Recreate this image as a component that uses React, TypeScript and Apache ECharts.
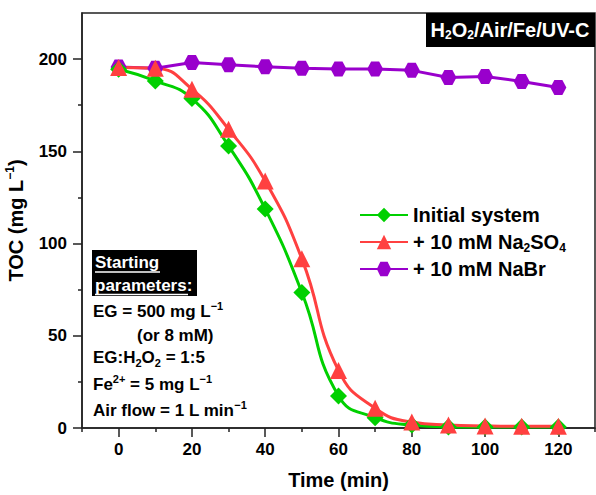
import React, { useEffect, useRef } from "react";
import * as echarts from "echarts";

const times = [0, 10, 20, 30, 40, 50, 60, 70, 80, 90, 100, 110, 120];
const initialSystem = [194.5, 188.2, 178.6, 152.9, 118.8, 73.5, 17.4, 5.6, 1.6, 0.6, 0.5, 0.5, 0.5];
const na2so4 = [195.5, 195.1, 183.7, 162, 133.9, 91.7, 31.2, 10.7, 3.2, 1.6, 1.1, 0.9, 0.9];
const nabr = [195.7, 195.1, 198.2, 196.9, 195.8, 195.1, 194.6, 194.7, 193.9, 190, 190.6, 187.9, 184.6];

const xMajorTicks = [0, 20, 40, 60, 80, 100, 120];
const xMinorTicks = [-10, 10, 30, 50, 70, 90, 110, 130];
const yMajorTicks = [0, 50, 100, 150, 200];
const yMinorTicks = [25, 75, 125, 175];

const seriesNames = ["Initial system", "+ 10 mM Na2SO4", "+ 10 mM NaBr"];
const legendLabels: Record<string, string> = {
  "Initial system": "Initial system",
  "+ 10 mM Na2SO4": "+ 10 mM Na{sub|2}SO{sub|4}",
  "+ 10 mM NaBr": "+ 10 mM NaBr",
};

const FONT = "'Liberation Sans', Arial, Helvetica, sans-serif";

function richFor(size: number, color: string) {
  const small = Math.round(size * 0.62);
  return {
    sup: { fontSize: small, fontWeight: "bold", fontFamily: FONT, color, fill: color, lineHeight: 12, verticalAlign: "top" },
    sub: { fontSize: small, fontWeight: "bold", fontFamily: FONT, color, fill: color, lineHeight: 12, verticalAlign: "bottom" },
  };
}

const hexagon = "path://M-10,0 L-5,-8.66 L5,-8.66 L10,0 L5,8.66 L-5,8.66 Z";

export default function App() {
  const ref = useRef<HTMLDivElement>(null);
  useEffect(() => {
    if (!ref.current) return;
    const chart = echarts.init(ref.current, null, { renderer: "svg" });
    const pair = (arr: number[]) => times.map((t, i) => [t, arr[i]]);
    const txt = (text: string, x: number, y: number, color = "#000", size = 17, align = "left") => ({
      type: "text",
      x,
      y,
      z: 100,
      style: {
        text,
        fill: color,
        fontSize: size,
        fontWeight: "bold",
        fontFamily: FONT,
        lineHeight: 22,
        align,
        verticalAlign: "middle",
        rich: richFor(size, color),
      },
    });
    chart.setOption({
      animation: false,
      backgroundColor: "#fff",
      grid: {
        left: 82,
        right: 1,
        top: 13,
        bottom: 67,
        containLabel: false,
        outerBoundsMode: "none",
        show: true,
        borderColor: "#222",
        borderWidth: 1.5,
        backgroundColor: "transparent",
      },
      xAxis: [
        {
          type: "value",
          min: -10,
          max: 130,
          name: "Time (min)",
          nameLocation: "middle",
          nameGap: 42,
          nameTextStyle: { fontSize: 20, fontWeight: "bold", fontFamily: FONT, color: "#000" },
          axisLine: { show: true, onZero: false, lineStyle: { color: "#222", width: 1.5 } },
          axisTick: { show: true, customValues: xMajorTicks, length: 9, lineStyle: { color: "#222", width: 1.5 } },
          axisLabel: { customValues: xMajorTicks, fontSize: 17, fontWeight: "bold", fontFamily: FONT, color: "#000", margin: 13 },
          splitLine: { show: false },
        },
        {
          type: "value",
          min: -10,
          max: 130,
          position: "bottom",
          axisLine: { show: false, onZero: false },
          axisTick: { show: true, customValues: xMinorTicks, length: 4, lineStyle: { color: "#222", width: 1.5 } },
          axisLabel: { show: false },
          splitLine: { show: false },
        },
      ],
      yAxis: [
        {
          type: "value",
          min: 0,
          max: 225,
          name: "TOC (mg L{sup|−1})",
          nameLocation: "middle",
          nameGap: 44,
          nameTextStyle: { fontSize: 20, fontWeight: "bold", fontFamily: FONT, color: "#000", lineHeight: 24, rich: richFor(20, "#000") },
          axisLine: { show: true, onZero: false, lineStyle: { color: "#222", width: 1.5 } },
          axisTick: { show: true, customValues: yMajorTicks, length: 9, lineStyle: { color: "#222", width: 1.5 } },
          axisLabel: { customValues: yMajorTicks, fontSize: 17, fontWeight: "bold", fontFamily: FONT, color: "#000", margin: 15 },
          splitLine: { show: false },
        },
        {
          type: "value",
          min: 0,
          max: 225,
          position: "left",
          axisLine: { show: false, onZero: false },
          axisTick: { show: true, customValues: yMinorTicks, length: 4, lineStyle: { color: "#222", width: 1.5 } },
          axisLabel: { show: false },
          splitLine: { show: false },
        },
      ],
      legend: {
        data: seriesNames,
        orient: "vertical",
        left: 354,
        top: 198,
        itemWidth: 48,
        itemHeight: 18,
        itemGap: 3,
        formatter: (name: string) => legendLabels[name] || name,
        textStyle: { fontSize: 20, fontWeight: "bold", fontFamily: FONT, color: "#000", lineHeight: 24, rich: richFor(20, "#000") },
      },
      series: [
        {
          name: seriesNames[2],
          type: "line",
          data: pair(nabr),
          symbol: hexagon,
          symbolSize: [16, 15],
          itemStyle: { color: "#9900CC" },
          lineStyle: { color: "#9900CC", width: 3 },
        },
        {
          name: seriesNames[0],
          type: "line",
          data: pair(initialSystem),
          smooth: 0.5,
          symbol: "diamond",
          symbolSize: 17,
          itemStyle: { color: "#00D000" },
          lineStyle: { color: "#00D000", width: 3 },
        },
        {
          name: seriesNames[1],
          type: "line",
          data: pair(na2so4),
          smooth: 0.5,
          symbol: "triangle",
          symbolSize: 17,
          itemStyle: { color: "#FF4040" },
          lineStyle: { color: "#FF4040", width: 3 },
        },
      ],
      graphic: [
        { type: "rect", z: 99, shape: { x: 426, y: 13, width: 169, height: 34 }, style: { fill: "#000" } },
        txt("H{sub|2}O{sub|2}/Air/Fe/UV-C", 510, 30, "#fff", 20, "center"),
        { type: "rect", z: 99, shape: { x: 92, y: 250, width: 105, height: 46 }, style: { fill: "#000" } },
        txt("Starting", 95, 262, "#fff"),
        txt("parameters:", 95, 285, "#fff"),
        { type: "line", z: 100, shape: { x1: 95, y1: 272, x2: 160, y2: 272 }, style: { stroke: "#fff", lineWidth: 1.5 } },
        { type: "line", z: 100, shape: { x1: 95, y1: 294.5, x2: 188, y2: 294.5 }, style: { stroke: "#fff", lineWidth: 1.5 } },
        txt("EG = 500 mg L{sup|−1}", 93, 311),
        txt("(or 8 mM)", 137, 335),
        txt("EG:H{sub|2}O{sub|2} = 1:5", 93, 357),
        txt("Fe{sup|2+} = 5 mg L{sup|−1}", 93, 384),
        txt("Air flow = 1 L min{sup|−1}", 93, 410),
      ],
    });
    return () => chart.dispose();
  }, []);
  return <div ref={ref} style={{ position: "fixed", left: 0, top: 0, width: 596, height: 495 }} />;
}
